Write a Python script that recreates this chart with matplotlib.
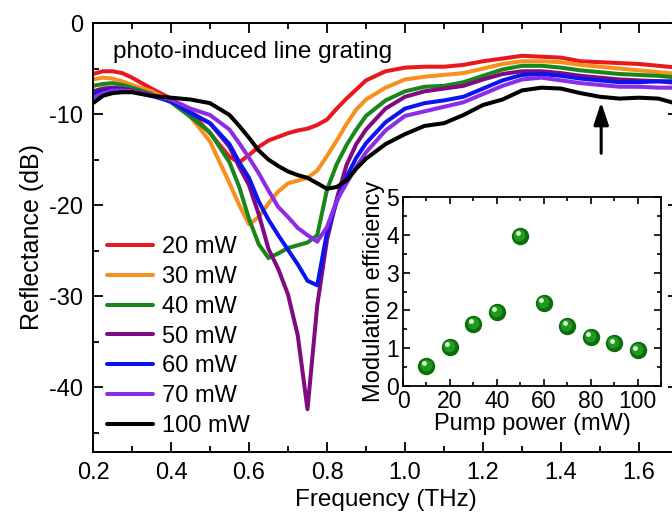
import matplotlib
matplotlib.use("Agg")
import matplotlib.pyplot as plt
import matplotlib.transforms as mtransforms
from matplotlib.ticker import MultipleLocator

plt.rcParams['font.family'] = ['Liberation Sans', 'DejaVu Sans']
plt.rcParams['axes.unicode_minus'] = False

# frequency grid (THz) shared by all curves
freq = [0.20, 0.225, 0.25, 0.275, 0.30, 0.35, 0.40, 0.45, 0.50, 0.55,
        0.575, 0.60, 0.625, 0.65, 0.675, 0.70, 0.725, 0.75, 0.775, 0.80,
        0.825, 0.85, 0.875, 0.90, 0.95, 1.00, 1.05, 1.10, 1.15, 1.20,
        1.25, 1.30, 1.35, 1.40, 1.45, 1.50, 1.55, 1.60, 1.65, 1.70]

# reflectance (dB)
r20 = [-5.6, -5.3, -5.3, -5.5, -6.0, -7.2, -8.3, -9.8, -12.1, -14.7,
       -15.3, -14.5, -13.6, -12.9, -12.5, -12.1, -11.8, -11.6, -11.2, -10.6,
       -9.4, -8.3, -7.3, -6.3, -5.3, -4.9, -4.8, -4.8, -4.6, -4.2,
       -3.9, -3.6, -3.7, -3.8, -4.2, -4.3, -4.4, -4.5, -4.7, -4.9]
r30 = [-6.2, -6.0, -6.1, -6.4, -6.8, -7.5, -8.6, -10.3, -13.0, -17.6,
       -20.0, -22.1, -21.3, -19.8, -18.5, -17.6, -17.3, -17.0, -16.2, -14.6,
       -12.9, -11.1, -9.5, -8.4, -7.1, -6.2, -5.9, -5.7, -5.5, -5.0,
       -4.5, -4.2, -4.2, -4.3, -4.6, -4.8, -5.0, -5.2, -5.4, -5.6]
r40 = [-6.9, -6.7, -6.6, -6.8, -7.1, -7.8, -8.7, -10.3, -12.0, -15.3,
       -18.0, -21.5, -24.3, -25.8, -25.3, -24.7, -24.4, -24.1, -23.3, -18.3,
       -15.5, -13.4, -11.7, -10.2, -8.5, -7.5, -7.0, -6.9, -6.5, -5.8,
       -5.1, -4.7, -4.7, -4.9, -5.2, -5.4, -5.6, -5.7, -5.8, -6.0]
r50 = [-7.5, -7.2, -7.1, -7.2, -7.4, -7.9, -8.6, -9.8, -11.0, -13.6,
       -15.8, -17.8, -21.0, -24.8, -27.0, -29.8, -34.3, -42.4, -31.0, -23.8,
       -19.3, -15.6, -13.3, -11.7, -9.4, -8.1, -7.5, -7.2, -6.9, -6.2,
       -5.6, -5.3, -5.3, -5.5, -5.8, -6.0, -6.2, -6.3, -6.4, -6.6]
r60 = [-7.9, -7.5, -7.3, -7.3, -7.5, -8.0, -8.6, -9.9, -11.0, -13.3,
       -15.3, -17.0, -19.6, -21.6, -23.3, -24.9, -26.5, -28.3, -28.8, -23.0,
       -19.6, -16.9, -14.8, -13.2, -10.9, -9.4, -8.8, -8.5, -8.1, -7.2,
       -6.3, -5.7, -5.6, -5.8, -6.1, -6.3, -6.5, -6.5, -6.4, -6.4]
r70 = [-8.2, -7.7, -7.4, -7.4, -7.5, -7.9, -8.4, -9.4, -10.1, -11.7,
       -13.2, -14.8, -16.5, -18.4, -20.2, -21.3, -22.5, -23.3, -24.0, -22.4,
       -19.5, -17.6, -15.8, -14.2, -11.8, -10.2, -9.7, -9.2, -8.7, -7.8,
       -6.9, -6.2, -6.0, -6.3, -6.6, -6.8, -7.0, -7.0, -7.1, -7.1]
r100 = [-8.8, -8.0, -7.7, -7.6, -7.6, -8.0, -8.2, -8.4, -8.8, -10.1,
        -11.3, -12.6, -14.0, -15.0, -15.7, -16.3, -16.7, -17.0, -17.6, -18.2,
        -18.0, -17.3, -16.0, -14.9, -13.3, -12.2, -11.3, -11.0, -10.1, -9.0,
        -8.4, -7.4, -7.1, -7.2, -7.7, -8.1, -8.3, -8.2, -8.3, -8.9]

labels = ['20 mW', '30 mW', '40 mW', '50 mW', '60 mW', '70 mW', '100 mW']
colors = ['#e8191c', '#f7901e', '#1a861a', '#800a80', '#0a14f0', '#8c2be8', '#000000']

# inset: modulation efficiency vs pump power
power = [10, 20, 30, 40, 50, 60, 70, 80, 90, 100]
efficiency = [0.54, 1.04, 1.65, 1.97, 3.98, 2.2, 1.6, 1.3, 1.13, 0.95]

fig = plt.figure(figsize=(6.72, 5.16), dpi=100)
ax = fig.add_axes([93/672, 1-452/516, (678-93)/672, (452-23)/516])

series = [r20, r30, r40, r50, r60, r70, r100]
for y, lab, c in zip(series, labels, colors):
    ax.plot(freq, y, color=c, lw=2.9, label=lab, solid_capstyle='round',
            solid_joinstyle='round')

ax.set_xlim(0.2, 1.7)
ax.set_ylim(-47.1, 0)
ax.xaxis.set_major_locator(MultipleLocator(0.2))
ax.xaxis.set_minor_locator(MultipleLocator(0.1))
ax.yaxis.set_major_locator(MultipleLocator(10))
ax.yaxis.set_minor_locator(MultipleLocator(5))
ax.set_xticks([0.2, 0.4, 0.6, 0.8, 1.0, 1.2, 1.4, 1.6])
ax.set_xticklabels(['0.2', '0.4', '0.6', '0.8', '1.0', '1.2', '1.4', '1.6'])
ax.tick_params(which='both', direction='in', top=True, right=True, width=1.3)
ax.tick_params(which='major', length=7, labelsize=17, pad=7)
ax.tick_params(which='minor', length=4)
for s in ax.spines.values():
    s.set_linewidth(1.4)
ax.set_xlabel('Frequency (THz)', fontsize=17.5, labelpad=4)
ax.set_ylabel('Reflectance (dB)', fontsize=18, labelpad=4)

ax.text(0.251, -3.85, 'photo-induced line grating', fontsize=17.5, va='baseline')

ax.annotate('', xy=(1.503, -8.7), xytext=(1.503, -14.3),
            arrowprops=dict(arrowstyle='-|>,head_length=0.9,head_width=0.3',
                            lw=2.2, color='black', mutation_scale=15,
                            shrinkA=0, shrinkB=0))

leg = ax.legend(loc='lower left', bbox_to_anchor=(0.024, 0.035), frameon=False,
                fontsize=17, handlelength=1.95, handletextpad=0.38,
                labelspacing=0.33, borderpad=0, borderaxespad=0)

ax2 = fig.add_axes([403/672, 1-386/516, (661-403)/672, (386-197)/516])
ax2.set_facecolor('white')
ax2.plot(power, efficiency, 'o', ms=11.5, mfc='#0b6e0b', mec='#0b6e0b', zorder=3)
mid = mtransforms.offset_copy(ax2.transData, fig=fig, x=-0.6, y=0.6, units='points')
ax2.plot(power, efficiency, 'o', ms=8.5, mfc='#1f9a1f', mec='none', transform=mid, zorder=4)
hi = mtransforms.offset_copy(ax2.transData, fig=fig, x=-1.8, y=1.8, units='points')
ax2.plot(power, efficiency, 'o', ms=3.5, mfc='#d8f5d8', mec='none', transform=hi, zorder=5)

ax2.set_xlim(0, 110)
ax2.set_ylim(0, 5)
ax2.xaxis.set_major_locator(MultipleLocator(20))
ax2.xaxis.set_minor_locator(MultipleLocator(10))
ax2.yaxis.set_major_locator(MultipleLocator(1))
ax2.yaxis.set_minor_locator(MultipleLocator(0.5))
ax2.tick_params(which='both', direction='in', top=True, right=True, width=1.2)
ax2.tick_params(which='major', length=5, labelsize=16.5, pad=3)
ax2.tick_params(which='minor', length=3)
for s in ax2.spines.values():
    s.set_linewidth(1.3)
ax2.set_xlabel('Pump power (mW)', fontsize=17, labelpad=0)
ax2.set_ylabel('Modulation efficiency', fontsize=17, labelpad=1)

fig.savefig('out.png', dpi=100)
